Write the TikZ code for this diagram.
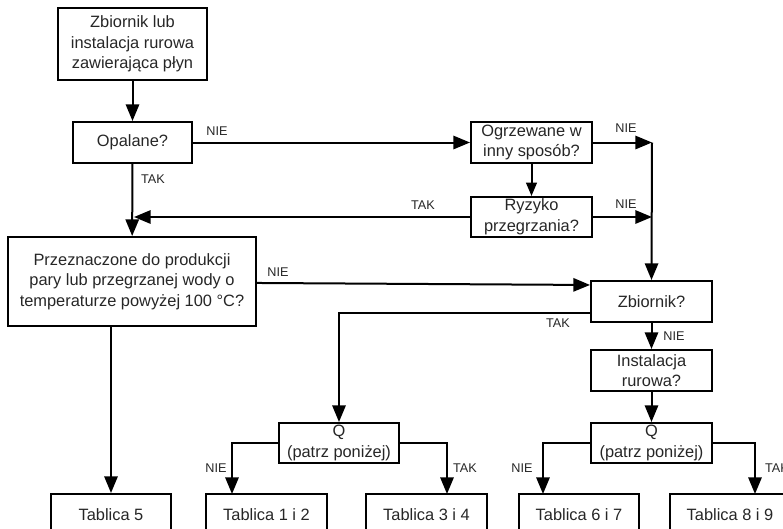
\documentclass[tikz,border=0pt]{standalone}
\usepackage{fontspec}
\setmainfont{Liberation Sans}
\usetikzlibrary{arrows.meta}
\begin{document}
\begin{tikzpicture}[x=0.75pt,y=-0.75pt,
  box/.style={draw=black,line width=1.5pt,inner sep=0pt,align=center,
    font=\fontsize{12.3}{15.5}\selectfont,text=black!85},
  conn/.style={line width=1.5pt,draw=black},
  arr/.style={conn,-{Triangle[length=12.5pt,width=10pt]}},
  lbl/.style={font=\fontsize{9.5}{11}\selectfont,inner sep=0pt,text=black!85}]
\useasboundingbox (0,0) rectangle (783,529);
\clip (0,0) rectangle (783,529);
% boxes
\node[box,minimum width=111.75pt,minimum height=54pt] (b1) at (132.5,44) {Zbiornik lub\\instalacja rurowa\\zawierająca płyn};
\node[box,minimum width=89.25pt,minimum height=30.75pt] (opal) at (132.5,142.5) {Opalane?};
\node[box,minimum width=90.75pt,minimum height=30.75pt] (ogrz) at (531.5,142.5) {Ogrzewane w\\inny sposób?};
\node[box,minimum width=90.75pt,minimum height=30pt] (ryz) at (531.5,217) {Ryzyko\\przegrzania?};
\node[box,minimum width=186pt,minimum height=66.75pt] (prz) at (132,281.5) {Przeznaczone do produkcji\\pary lub przegrzanej wody o\\temperaturze powyżej 100 °C?};
\node[box,minimum width=90.75pt,minimum height=30.75pt] (zb) at (651.5,301.5) {Zbiornik?};
\node[box,minimum width=90.75pt,minimum height=30.75pt] (inst) at (651.5,370.5) {Instalacja\\rurowa?};
\node[box,minimum width=90pt,minimum height=30pt] (q1) at (339,443) {Q\\(patrz poniżej)};
\node[box,minimum width=90.75pt,minimum height=30pt] (q2) at (651.5,443) {Q\\(patrz poniżej)};
\node[box,minimum width=90pt,minimum height=30.75pt] (t5) at (111,514.5) {Tablica 5};
\node[box,minimum width=90.75pt,minimum height=30.75pt] (t12) at (266.5,514.5) {Tablica 1 i 2};
\node[box,minimum width=90.75pt,minimum height=30.75pt] (t34) at (426.5,514.5) {Tablica 3 i 4};
\node[box,minimum width=90pt,minimum height=30.75pt] (t67) at (579,514.5) {Tablica 6 i 7};
\node[box,minimum width=90pt,minimum height=30.75pt] (t89) at (730,514.5) {Tablica 8 i 9};
% coordinates
\coordinate (jr1) at (652,142.5);
\coordinate (jr2) at (652,217);
\coordinate (jl) at (134,217);
\coordinate (e12) at (232,494);
\coordinate (e34) at (447,494);
\coordinate (e67) at (543,494);
\coordinate (e89) at (755,494);
% connectors
\draw[arr] (b1) -- (opal);
\draw[arr] (opal) -- (ogrz);
\draw[arr] (ogrz.east) -- (jr1);
\draw[arr] (jr1) -- (zb.north);
\draw[conn,-{Triangle[length=10pt,width=8pt]}] (ogrz) -- (ryz);
\draw[arr] (ryz.east) -- (jr2);
\draw[arr] (ryz.west) -- (jl);
\draw[arr] (opal) -- (prz);
\draw[arr] ([yshift=-1.1pt]prz.east) -- ([yshift=12.4pt]zb.west);
\draw[arr] ([yshift=-8.6pt]zb.west) -| (q1.north);
\draw[arr] (zb) -- (inst);
\draw[arr] (inst) -- (q2);
\draw[arr] (t5.north |- prz.south) -- (t5.north);
\draw[arr] (q1.west) -| (e12);
\draw[arr] (q1.east) -| (e34);
\draw[arr] (q2.west) -| (e67);
\draw[arr] (q2.east) -| (e89);
% labels
\node[lbl] (l1) at (217,131) {NIE};
\node[lbl] (l2) at (153,179) {TAK};
\node[lbl] (l3) at (626,128.5) {NIE};
\node[lbl] (l4) at (626,204) {NIE};
\node[lbl] (l5) at (423,205) {TAK};
\node[lbl] (l6) at (278,272) {NIE};
\node[lbl] (l7) at (558,323) {TAK};
\node[lbl] (l8) at (674,336) {NIE};
\node[lbl] (l9) at (216,468) {NIE};
\node[lbl] (l10) at (465,468) {TAK};
\node[lbl] (l11) at (522,468) {NIE};
\node[lbl] (l12) at (777,468) {TAK};
\end{tikzpicture}
\end{document}
